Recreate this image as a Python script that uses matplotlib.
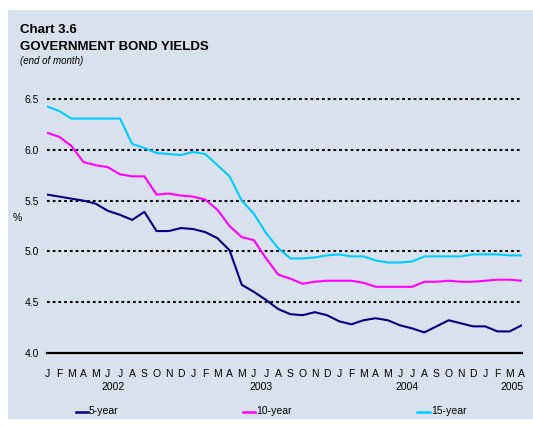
import matplotlib
matplotlib.use("Agg")
import matplotlib.pyplot as plt
from matplotlib.patches import Rectangle
from matplotlib.lines import Line2D

plt.rcParams['font.family'] = ['Liberation Sans', 'DejaVu Sans']

# ---- data ----
month_labels = list("JFMAMJJASOND") * 3 + list("JFMA")
years = ["2002", "2003", "2004", "2005"]
year_pos = [5.4, 17.6, 29.6, 38.2]
yield_5 = [5.56, 5.54, 5.52, 5.50, 5.47, 5.40, 5.36, 5.31, 5.39, 5.20,
           5.20, 5.23, 5.22, 5.19, 5.13, 5.01, 4.67, 4.60, 4.52, 4.43,
           4.38, 4.37, 4.40, 4.37, 4.31, 4.28, 4.32, 4.34, 4.32, 4.27,
           4.24, 4.20, 4.26, 4.32, 4.29, 4.26, 4.26, 4.21, 4.21, 4.27]
yield_10 = [6.17, 6.13, 6.04, 5.88, 5.85, 5.83, 5.76, 5.74, 5.74, 5.56,
            5.57, 5.55, 5.54, 5.51, 5.41, 5.25, 5.14, 5.11, 4.93, 4.77,
            4.73, 4.68, 4.70, 4.71, 4.71, 4.71, 4.69, 4.65, 4.65, 4.65,
            4.65, 4.70, 4.70, 4.71, 4.70, 4.70, 4.71, 4.72, 4.72, 4.71]
yield_15 = [6.43, 6.385, 6.31, 6.31, 6.31, 6.31, 6.31, 6.06, 6.02, 5.97,
            5.96, 5.95, 5.98, 5.96, 5.85, 5.74, 5.50, 5.37, 5.18, 5.03,
            4.93, 4.93, 4.94, 4.96, 4.97, 4.95, 4.95, 4.91, 4.89, 4.89,
            4.90, 4.95, 4.95, 4.95, 4.95, 4.97, 4.97, 4.97, 4.96, 4.96]
series_names = ["5-year", "10-year", "15-year"]
series_colors = ["#000080", "#FF00FF", "#00CCFF"]
yticks = [4.0, 4.5, 5.0, 5.5, 6.0, 6.5]

W, H = 533, 426
fig = plt.figure(figsize=(W / 100, H / 100), dpi=100)
fig.patch.set_facecolor("white")

# panel background
fig.patches.append(Rectangle((8 / W, 1 - 419 / H), (533 - 8) / W, (419 - 10) / H,
                             transform=fig.transFigure, facecolor="#D9E1EE",
                             edgecolor="none", zorder=-10))

left, right = 47 / W, 521.7 / W
bottom, top = 1 - 352.7 / H, 1 - 99.3 / H
ax = fig.add_axes([left, bottom, right - left, top - bottom])
ax.set_facecolor("none")

x = list(range(len(yield_5)))
for vals, c in zip([yield_5, yield_10, yield_15], series_colors):
    ax.plot(x, vals, color=c, lw=1.5, solid_joinstyle="round", zorder=3)

ax.set_xlim(0, len(x) - 1)
ax.set_ylim(4.0, 6.5)
for yv in yticks[1:]:
    ax.axhline(yv, color="black", lw=1.5, linestyle=(0, (1.3, 1.45)),
               dash_capstyle="butt", clip_on=False, zorder=2)
ax.axhline(4.0, color="black", lw=1.6, clip_on=False, zorder=2)

for s in ax.spines.values():
    s.set_visible(False)
ax.set_yticks(yticks)
ax.set_yticklabels([f"{v:.1f}" for v in yticks], fontsize=7.5)
ax.tick_params(axis="y", length=0, pad=6)
ax.set_xticks(x)
ax.set_xticklabels(month_labels, fontsize=7.5)
ax.tick_params(axis="x", length=0, pad=12)

year_y = (352.7 - 386.5) / (352.7 - 99.3)
for yr, p in zip(years, year_pos):
    ax.text(p, year_y, yr, transform=ax.get_xaxis_transform(),
            ha="center", va="center", fontsize=7.5)

fig.text(17 / W, 1 - 218 / H, "%", fontsize=7.5, ha="center", va="center")

# titles
fig.text(20.5 / W, 1 - 30 / H, "Chart 3.6", fontsize=9.5, fontweight="bold",
         ha="left", va="center")
fig.text(20.5 / W, 1 - 47.5 / H, "GOVERNMENT BOND YIELDS", fontsize=9.5,
         fontweight="bold", ha="left", va="center")
fig.text(20.5 / W, 1 - 61.5 / H, "(end of month)", fontsize=7, style="italic",
         ha="left", va="center")

# legend
leg_x = [75.5, 243, 417.4]
leg_y = 1 - 411.5 / H
for lx, name, c in zip(leg_x, series_names, series_colors):
    fig.add_artist(Line2D([lx / W, (lx + 12.5) / W], [leg_y, leg_y], color=c,
                          lw=1.8, transform=fig.transFigure))
    fig.text((lx + 13.5) / W, leg_y, name, fontsize=7.5, ha="left", va="center")

fig.savefig("out.png", dpi=100, facecolor=fig.get_facecolor())
